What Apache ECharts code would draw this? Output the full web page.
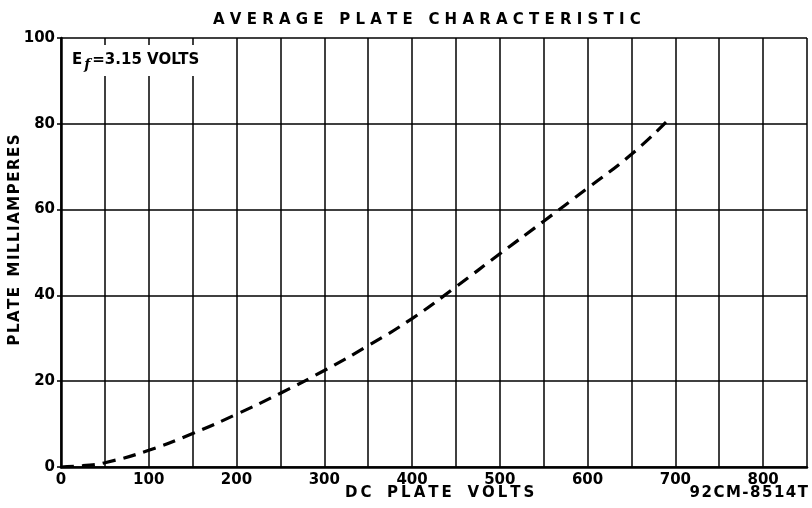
<!DOCTYPE html>
<html>
<head>
<meta charset="utf-8">
<script src="https://cdn.jsdelivr.net/npm/echarts@6/dist/echarts.min.js"></script>
<style>
  html, body { margin: 0; padding: 0; background: #fff; }
  #chart { width: 812px; height: 508px; }
</style>
</head>
<body>
<div id="chart"></div>
<script>
// plate voltage (V) vs plate current (mA)
const plateVolts = [0, 25, 50, 100, 150, 200, 250, 300, 350, 400, 450, 500, 550, 600, 650, 690];
const plateMilliamps = [0, 0.3, 1.0, 3.9, 7.8, 12.3, 17.2, 22.5, 28.3, 34.6, 42.0, 49.7, 57.3, 65.0, 72.9, 80.5];

const xLabels = [0, 100, 200, 300, 400, 500, 600, 700, 800];
const yLabels = [0, 20, 40, 60, 80, 100];

const FONT = 'DejaVu Sans';
const INK = '#000';

// spread letters out like the hand lettering
function spaced(str, gap) {
  return str.split('').join(gap);
}

const chart = echarts.init(document.getElementById('chart'));

const option = {
  backgroundColor: '#fff',
  animation: false,
  textStyle: { fontFamily: FONT, color: INK },
  grid: { left: 61, right: 5, top: 38, bottom: 41 },
  xAxis: {
    type: 'value',
    min: 0,
    max: 850,
    interval: 50,
    axisLine: { show: true, lineStyle: { color: INK, width: 2.5 } },
    axisTick: { show: false },
    axisLabel: {
      customValues: xLabels,
      color: INK,
      fontSize: 15,
      fontWeight: 'bold',
      fontFamily: FONT,
      margin: 6
    },
    splitLine: { show: true, lineStyle: { color: INK, width: 1.5 } }
  },
  yAxis: {
    type: 'value',
    min: 0,
    max: 100,
    interval: 10,
    axisLine: { show: true, lineStyle: { color: INK, width: 2.5 } },
    axisTick: { show: true, customValues: yLabels, length: 4, lineStyle: { color: INK, width: 1.5 } },
    axisLabel: {
      customValues: yLabels,
      color: INK,
      fontSize: 15,
      fontWeight: 'bold',
      fontFamily: FONT,
      margin: 6
    },
    splitLine: { show: true, lineStyle: { color: INK, width: 1.5 } }
  },
  series: [{
    type: 'line',
    data: plateVolts.map((v, i) => [v, plateMilliamps[i]]),
    smooth: 0.5,
    showSymbol: false,
    lineStyle: { color: INK, width: 3.2, type: [13, 8] },
    z: 5
  }],
  graphic: [
    {
      type: 'text',
      left: 213,
      top: 13,
      style: {
        text: spaced('AVERAGE', ' ') + '   ' + spaced('PLATE', ' ') + '   ' + spaced('CHARACTERISTIC', ' '),
        font: 'bold 15px "DejaVu Sans"',
        fill: INK
      }
    },
    {
      type: 'text',
      left: 345,
      top: 486,
      style: {
        text: spaced('DC', '\u2009') + '   ' + spaced('PLATE', '\u2009') + '   ' + spaced('VOLTS', '\u2009'),
        font: 'bold 15px "DejaVu Sans"',
        fill: INK
      }
    },
    {
      type: 'text',
      right: 4,
      top: 486,
      style: {
        text: spaced('92CM-8514T', '\u200A'),
        font: 'bold 15px "DejaVu Sans"',
        fill: INK
      }
    },
    {
      type: 'text',
      x: 15,
      y: 240,
      rotation: Math.PI / 2,
      style: {
        text: spaced('PLATE', '\u200A') + '  ' + spaced('MILLIAMPERES', '\u200A'),
        font: 'bold 15px "DejaVu Sans"',
        fill: INK,
        align: 'center',
        verticalAlign: 'middle'
      }
    },
    {
      type: 'rect',
      shape: { x: 63, y: 45, width: 171, height: 31 },
      style: { fill: '#fff' },
      z: 10
    },
    {
      type: 'text',
      x: 72,
      y: 60,
      z: 11,
      style: {
        text: '{a|E}{s|f}{a|=3.15 VOLTS}',
        verticalAlign: 'middle',
        fill: INK,
        rich: {
          a: { font: 'bold 15px "DejaVu Sans"', fill: INK, verticalAlign: 'middle', lineHeight: 24 },
          s: { font: 'bold italic 14px "DejaVu Serif"', fill: INK, verticalAlign: 'bottom', lineHeight: 24, padding: [0, 2, 0, 2] }
        }
      }
    }
  ]
};

chart.setOption(option);
</script>
</body>
</html>
